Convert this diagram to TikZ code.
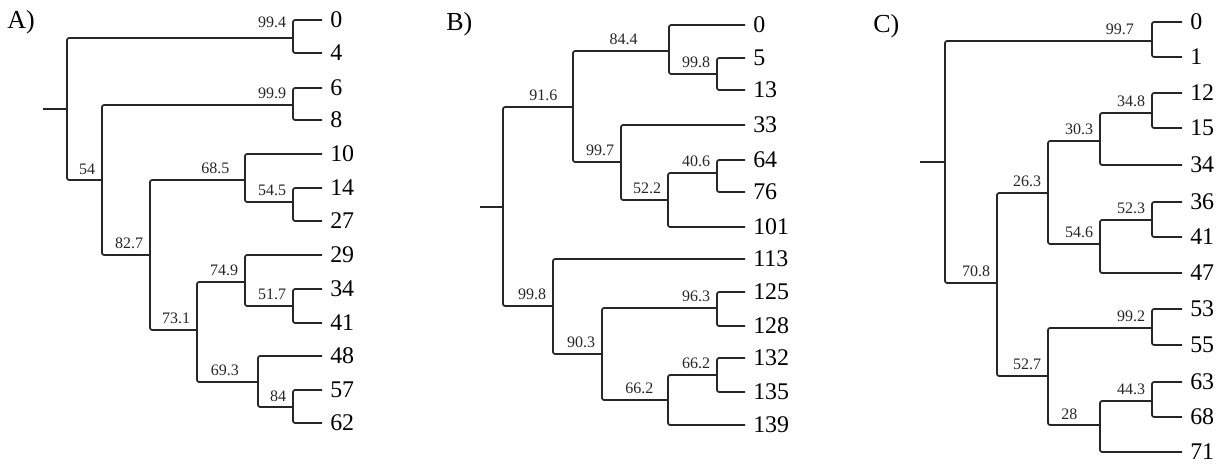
\documentclass[tikz,border=0pt]{standalone}
\usepackage{fontspec}
\setmainfont{Liberation Serif}
\usetikzlibrary{positioning}
\tikzset{
  branch/.style={line width=1pt, black!85, rounded corners=1.2pt},
  leaf/.style={anchor=west, inner sep=0pt, xshift=4.5pt, font=\fontsize{13.6}{14}\selectfont},
  sv/.style={anchor=south east, inner sep=0pt, xshift=-3.4pt, yshift=2.8pt, font=\fontsize{9.1}{10}\selectfont},
  panel/.style={anchor=base west, inner sep=0pt, font=\fontsize{14.8}{15}\selectfont}
}
\begin{document}
\begin{tikzpicture}[x=0.02cm, y=-0.02cm]
  \useasboundingbox (0,0) rectangle (1226,463);

  % ---------------- A) ----------------
  \node[panel] (pA) at (7,29) {A)};
  % leaves (tip of branch at x = 322)
  \foreach \n/\y in {0/20, 4/53, 6/88, 8/120, 10/154, 14/188, 27/221,
                     29/255, 34/289, 41/323, 48/356, 57/390, 62/423} {
    \coordinate (A\n) at (322,\y);
    \node[leaf] (lA\n) at (A\n) {\n};
  }
  % inner nodes (x of the split, y of the incoming branch)
  \coordinate (Astub) at (43,109);
  \coordinate (Aroot) at (67,109);
  \coordinate (An1) at (293,38);
  \coordinate (An2) at (102,180);
  \coordinate (An3) at (293,105);
  \coordinate (An4) at (150,255);
  \coordinate (An5) at (245,180);
  \coordinate (An6) at (293,202);
  \coordinate (An7) at (197,330);
  \coordinate (An8) at (245,282);
  \coordinate (An9) at (293,306);
  \coordinate (An10) at (258,382);
  \coordinate (An11) at (293,407);
  \draw[branch] (Astub) -- (Aroot);
  \draw[branch] (Aroot) |- (An1) node[sv, yshift=2.5pt] (sA1) {99.4};
  \draw[branch] (An1) |- (A0);
  \draw[branch] (An1) |- (A4);
  \draw[branch] (Aroot) |- (An2) node[sv] (sA2) {54};
  \draw[branch] (An2) |- (An3) node[sv] (sA3) {99.9};
  \draw[branch] (An3) |- (A6);
  \draw[branch] (An3) |- (A8);
  \draw[branch] (An2) |- (An4) node[sv] (sA4) {82.7};
  \draw[branch] (An4) |- (An5) node[sv, xshift=-5pt] (sA5) {68.5};
  \draw[branch] (An5) |- (A10);
  \draw[branch] (An5) |- (An6) node[sv] (sA6) {54.5};
  \draw[branch] (An6) |- (A14);
  \draw[branch] (An6) |- (A27);
  \draw[branch] (An4) |- (An7) node[sv] (sA7) {73.1};
  \draw[branch] (An7) |- (An8) node[sv] (sA8) {74.9};
  \draw[branch] (An8) |- (A29);
  \draw[branch] (An8) |- (An9) node[sv] (sA9) {51.7};
  \draw[branch] (An9) |- (A34);
  \draw[branch] (An9) |- (A41);
  \draw[branch] (An7) |- (An10) node[sv, xshift=-7pt] (sA10) {69.3};
  \draw[branch] (An10) |- (A48);
  \draw[branch] (An10) |- (An11) node[sv] (sA11) {84};
  \draw[branch] (An11) |- (A57);
  \draw[branch] (An11) |- (A62);

  % ---------------- B) ----------------
  \node[panel] (pB) at (446,31) {B)};
  \foreach \n/\y in {0/25, 5/58, 13/90, 33/125, 64/160, 76/192, 101/227,
                     113/259, 125/292, 128/326, 132/358, 135/392, 139/425} {
    \coordinate (B\n) at (745,\y);
    \node[leaf] (lB\n) at (B\n) {\n};
  }
  \coordinate (Bstub) at (480,207);
  \coordinate (Broot) at (503,207);
  \coordinate (Bn1) at (573,107);
  \coordinate (Bn2) at (669,51);
  \coordinate (Bn3) at (717,74);
  \coordinate (Bn4) at (621,162);
  \coordinate (Bn5) at (668,200);
  \coordinate (Bn6) at (717,173);
  \coordinate (Bn7) at (553,306);
  \coordinate (Bn8) at (602,354);
  \coordinate (Bn9) at (717,308);
  \coordinate (Bn10) at (668,400);
  \coordinate (Bn11) at (717,375);
  \draw[branch] (Bstub) -- (Broot);
  \draw[branch] (Broot) |- (Bn1) node[sv, xshift=-5pt] (sB1) {91.6};
  \draw[branch] (Bn1) |- (Bn2) node[sv, xshift=-14pt] (sB2) {84.4};
  \draw[branch] (Bn2) |- (B0);
  \draw[branch] (Bn2) |- (Bn3) node[sv] (sB3) {99.8};
  \draw[branch] (Bn3) |- (B5);
  \draw[branch] (Bn3) |- (B13);
  \draw[branch] (Bn1) |- (Bn4) node[sv] (sB4) {99.7};
  \draw[branch] (Bn4) |- (B33);
  \draw[branch] (Bn4) |- (Bn5) node[sv] (sB5) {52.2};
  \draw[branch] (Bn5) |- (Bn6) node[sv] (sB6) {40.6};
  \draw[branch] (Bn6) |- (B64);
  \draw[branch] (Bn6) |- (B76);
  \draw[branch] (Bn5) |- (B101);
  \draw[branch] (Broot) |- (Bn7) node[sv] (sB7) {99.8};
  \draw[branch] (Bn7) |- (B113);
  \draw[branch] (Bn7) |- (Bn8) node[sv] (sB8) {90.3};
  \draw[branch] (Bn8) |- (Bn9) node[sv] (sB9) {96.3};
  \draw[branch] (Bn9) |- (B125);
  \draw[branch] (Bn9) |- (B128);
  \draw[branch] (Bn8) |- (Bn10) node[sv, xshift=-4.5pt] (sB10) {66.2};
  \draw[branch] (Bn10) |- (Bn11) node[sv] (sB11) {66.2};
  \draw[branch] (Bn11) |- (B132);
  \draw[branch] (Bn11) |- (B135);
  \draw[branch] (Bn10) |- (B139);

  % ---------------- C) ----------------
  \node[panel] (pC) at (873,32) {C)};
  \foreach \n/\y in {0/22, 1/57, 12/93, 15/128, 34/165, 36/202, 41/237,
                     47/273, 53/309, 55/345, 63/382, 68/417, 71/452} {
    \coordinate (C\n) at (1182,\y);
    \node[leaf] (lC\n) at (C\n) {\n};
  }
  \coordinate (Cstub) at (920,162);
  \coordinate (Croot) at (945,162);
  \coordinate (Cn1) at (1152,41);
  \coordinate (Cn2) at (997,283);
  \coordinate (Cn3) at (1048,193);
  \coordinate (Cn4) at (1100,141);
  \coordinate (Cn5) at (1152,113);
  \coordinate (Cn6) at (1100,244);
  \coordinate (Cn7) at (1152,220);
  \coordinate (Cn8) at (1048,376);
  \coordinate (Cn9) at (1152,328);
  \coordinate (Cn10) at (1100,425);
  \coordinate (Cn11) at (1152,401);
  \draw[branch] (Cstub) -- (Croot);
  \draw[branch] (Croot) |- (Cn1) node[sv, xshift=-6.5pt] (sC1) {99.7};
  \draw[branch] (Cn1) |- (C0);
  \draw[branch] (Cn1) |- (C1);
  \draw[branch] (Croot) |- (Cn2) node[sv] (sC2) {70.8};
  \draw[branch] (Cn2) |- (Cn3) node[sv] (sC3) {26.3};
  \draw[branch] (Cn3) |- (Cn4) node[sv] (sC4) {30.3};
  \draw[branch] (Cn4) |- (Cn5) node[sv] (sC5) {34.8};
  \draw[branch] (Cn5) |- (C12);
  \draw[branch] (Cn5) |- (C15);
  \draw[branch] (Cn4) |- (C34);
  \draw[branch] (Cn3) |- (Cn6) node[sv] (sC6) {54.6};
  \draw[branch] (Cn6) |- (Cn7) node[sv] (sC7) {52.3};
  \draw[branch] (Cn7) |- (C36);
  \draw[branch] (Cn7) |- (C41);
  \draw[branch] (Cn6) |- (C47);
  \draw[branch] (Cn2) |- (Cn8) node[sv] (sC8) {52.7};
  \draw[branch] (Cn8) |- (Cn9) node[sv] (sC9) {99.2};
  \draw[branch] (Cn9) |- (C53);
  \draw[branch] (Cn9) |- (C55);
  \draw[branch] (Cn8) |- (Cn10) node[sv, xshift=-9pt] (sC10) {28};
  \draw[branch] (Cn10) |- (Cn11) node[sv] (sC11) {44.3};
  \draw[branch] (Cn11) |- (C63);
  \draw[branch] (Cn11) |- (C68);
  \draw[branch] (Cn10) |- (C71);
\end{tikzpicture}
\end{document}
